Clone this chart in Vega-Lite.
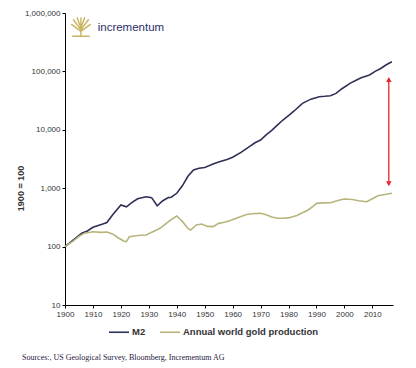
{
  "$schema": "https://vega.github.io/schema/vega-lite/v6.json",
  "width": 328,
  "height": 292,
  "autosize": {"type": "none"},
  "padding": {"left": 65, "top": 13, "right": 23, "bottom": 63},
  "background": "white",
  "config": {
    "font": "Liberation Sans",
    "view": {"stroke": null},
    "axis": {"grid": false, "domainColor": "#000", "tickColor": "#000", "labelColor": "#333", "labelFontSize": 8, "tickSize": 3, "labelPadding": 2, "labelOverlap": false, "labelFlush": false}
  },
  "title": {
    "text": "Sources:, US Geological Survey, Bloomberg, Incrementum AG",
    "orient": "bottom",
    "anchor": "start",
    "font": "Liberation Serif",
    "fontSize": 8,
    "fontWeight": "normal",
    "color": "#1f2040",
    "dx": 6,
    "offset": 17
  },
  "datasets": {
    "series": [
      {"year": 1900, "value": 100, "series": "M2"},
      {"year": 1903, "value": 130, "series": "M2"},
      {"year": 1906, "value": 169, "series": "M2"},
      {"year": 1908, "value": 185, "series": "M2"},
      {"year": 1910, "value": 214, "series": "M2"},
      {"year": 1913, "value": 240, "series": "M2"},
      {"year": 1915, "value": 258, "series": "M2"},
      {"year": 1917, "value": 347, "series": "M2"},
      {"year": 1920, "value": 515, "series": "M2"},
      {"year": 1922, "value": 480, "series": "M2"},
      {"year": 1924, "value": 570, "series": "M2"},
      {"year": 1926, "value": 660, "series": "M2"},
      {"year": 1929, "value": 715, "series": "M2"},
      {"year": 1931, "value": 690, "series": "M2"},
      {"year": 1933, "value": 500, "series": "M2"},
      {"year": 1935, "value": 610, "series": "M2"},
      {"year": 1937, "value": 690, "series": "M2"},
      {"year": 1938, "value": 700, "series": "M2"},
      {"year": 1940, "value": 818, "series": "M2"},
      {"year": 1942, "value": 1100, "series": "M2"},
      {"year": 1944, "value": 1600, "series": "M2"},
      {"year": 1946, "value": 2050, "series": "M2"},
      {"year": 1948, "value": 2200, "series": "M2"},
      {"year": 1950, "value": 2260, "series": "M2"},
      {"year": 1953, "value": 2600, "series": "M2"},
      {"year": 1955, "value": 2800, "series": "M2"},
      {"year": 1958, "value": 3100, "series": "M2"},
      {"year": 1960, "value": 3380, "series": "M2"},
      {"year": 1963, "value": 4100, "series": "M2"},
      {"year": 1966, "value": 5140, "series": "M2"},
      {"year": 1968, "value": 6000, "series": "M2"},
      {"year": 1970, "value": 6680, "series": "M2"},
      {"year": 1972, "value": 8200, "series": "M2"},
      {"year": 1974, "value": 9800, "series": "M2"},
      {"year": 1976, "value": 12000, "series": "M2"},
      {"year": 1978, "value": 14700, "series": "M2"},
      {"year": 1980, "value": 17500, "series": "M2"},
      {"year": 1982, "value": 21000, "series": "M2"},
      {"year": 1985, "value": 28400, "series": "M2"},
      {"year": 1988, "value": 33500, "series": "M2"},
      {"year": 1991, "value": 36900, "series": "M2"},
      {"year": 1993, "value": 37500, "series": "M2"},
      {"year": 1995, "value": 38400, "series": "M2"},
      {"year": 1997, "value": 42000, "series": "M2"},
      {"year": 1999, "value": 50000, "series": "M2"},
      {"year": 2002, "value": 62500, "series": "M2"},
      {"year": 2004, "value": 70000, "series": "M2"},
      {"year": 2006, "value": 78000, "series": "M2"},
      {"year": 2009, "value": 86700, "series": "M2"},
      {"year": 2011, "value": 100000, "series": "M2"},
      {"year": 2013, "value": 112000, "series": "M2"},
      {"year": 2015, "value": 130000, "series": "M2"},
      {"year": 2017, "value": 146500, "series": "M2"},
      {"year": 1900, "value": 100, "series": "Annual world gold production"},
      {"year": 1903, "value": 125, "series": "Annual world gold production"},
      {"year": 1905, "value": 150, "series": "Annual world gold production"},
      {"year": 1907, "value": 170, "series": "Annual world gold production"},
      {"year": 1910, "value": 180, "series": "Annual world gold production"},
      {"year": 1913, "value": 175, "series": "Annual world gold production"},
      {"year": 1915, "value": 178, "series": "Annual world gold production"},
      {"year": 1917, "value": 165, "series": "Annual world gold production"},
      {"year": 1919, "value": 142, "series": "Annual world gold production"},
      {"year": 1921, "value": 125, "series": "Annual world gold production"},
      {"year": 1922, "value": 122, "series": "Annual world gold production"},
      {"year": 1923, "value": 148, "series": "Annual world gold production"},
      {"year": 1926, "value": 155, "series": "Annual world gold production"},
      {"year": 1929, "value": 158, "series": "Annual world gold production"},
      {"year": 1932, "value": 185, "series": "Annual world gold production"},
      {"year": 1934, "value": 206, "series": "Annual world gold production"},
      {"year": 1936, "value": 245, "series": "Annual world gold production"},
      {"year": 1938, "value": 290, "series": "Annual world gold production"},
      {"year": 1940, "value": 334, "series": "Annual world gold production"},
      {"year": 1941, "value": 300, "series": "Annual world gold production"},
      {"year": 1942, "value": 270, "series": "Annual world gold production"},
      {"year": 1944, "value": 205, "series": "Annual world gold production"},
      {"year": 1945, "value": 192, "series": "Annual world gold production"},
      {"year": 1947, "value": 235, "series": "Annual world gold production"},
      {"year": 1949, "value": 244, "series": "Annual world gold production"},
      {"year": 1951, "value": 222, "series": "Annual world gold production"},
      {"year": 1953, "value": 220, "series": "Annual world gold production"},
      {"year": 1955, "value": 250, "series": "Annual world gold production"},
      {"year": 1957, "value": 262, "series": "Annual world gold production"},
      {"year": 1959, "value": 278, "series": "Annual world gold production"},
      {"year": 1962, "value": 315, "series": "Annual world gold production"},
      {"year": 1965, "value": 355, "series": "Annual world gold production"},
      {"year": 1968, "value": 368, "series": "Annual world gold production"},
      {"year": 1970, "value": 372, "series": "Annual world gold production"},
      {"year": 1972, "value": 350, "series": "Annual world gold production"},
      {"year": 1974, "value": 320, "series": "Annual world gold production"},
      {"year": 1976, "value": 305, "series": "Annual world gold production"},
      {"year": 1978, "value": 305, "series": "Annual world gold production"},
      {"year": 1980, "value": 310, "series": "Annual world gold production"},
      {"year": 1983, "value": 340, "series": "Annual world gold production"},
      {"year": 1985, "value": 380, "series": "Annual world gold production"},
      {"year": 1987, "value": 424, "series": "Annual world gold production"},
      {"year": 1989, "value": 500, "series": "Annual world gold production"},
      {"year": 1990, "value": 550, "series": "Annual world gold production"},
      {"year": 1992, "value": 560, "series": "Annual world gold production"},
      {"year": 1995, "value": 565, "series": "Annual world gold production"},
      {"year": 1998, "value": 620, "series": "Annual world gold production"},
      {"year": 2000, "value": 653, "series": "Annual world gold production"},
      {"year": 2003, "value": 640, "series": "Annual world gold production"},
      {"year": 2005, "value": 610, "series": "Annual world gold production"},
      {"year": 2008, "value": 587, "series": "Annual world gold production"},
      {"year": 2010, "value": 660, "series": "Annual world gold production"},
      {"year": 2012, "value": 740, "series": "Annual world gold production"},
      {"year": 2015, "value": 790, "series": "Annual world gold production"},
      {"year": 2017, "value": 818, "series": "Annual world gold production"}
    ],
    "arrow": [{"year": 2015.9, "top": 77000, "bottom": 1120, "topHead": 72000, "bottomHead": 1200}]
  },
  "layer": [
    {
      "data": {"name": "series"},
      "mark": {"type": "line", "strokeWidth": 1.6},
      "encoding": {
        "x": {
          "field": "year", "type": "quantitative",
          "scale": {"domain": [1900, 2017.4], "nice": false, "zero": false},
          "axis": {"title": null, "values": [1900, 1910, 1920, 1930, 1940, 1950, 1960, 1970, 1980, 1990, 2000, 2010], "format": "d", "labelFlush": false, "labelOverlap": false}
        },
        "y": {
          "field": "value", "type": "quantitative",
          "scale": {"type": "log", "domain": [10, 1000000], "nice": false},
          "axis": {"title": "1900 = 100", "values": [10, 100, 1000, 10000, 100000, 1000000], "format": ",", "titleFontSize": 9, "titleFontWeight": "bold", "titleColor": "#333", "titleX": -40, "titleY": 175, "labelFlush": false, "labelOverlap": false}
        },
        "color": {
          "field": "series", "type": "nominal",
          "scale": {"domain": ["M2", "Annual world gold production"], "range": ["#2e3057", "#b8b47c"]},
          "legend": {
            "title": null, "orient": "none", "legendX": 43, "legendY": 308, "direction": "horizontal",
            "symbolType": "stroke", "symbolSize": 400, "symbolStrokeWidth": 1.6,
            "labelFontWeight": "bold", "labelFontSize": 9.5, "labelColor": "#333",
            "labelOffset": 2, "columnPadding": 10
          }
        }
      }
    },
    {
      "data": {"name": "arrow"},
      "mark": {"type": "rule", "color": "#e5262a", "strokeWidth": 1.3},
      "encoding": {
        "x": {"field": "year", "type": "quantitative", "axis": {"title": null, "values": [1900, 1910, 1920, 1930, 1940, 1950, 1960, 1970, 1980, 1990, 2000, 2010], "format": "d", "labelFlush": false, "labelOverlap": false}},
        "y": {"field": "top", "type": "quantitative", "axis": {"title": "1900 = 100", "values": [10, 100, 1000, 10000, 100000, 1000000], "format": ",", "titleFontSize": 9, "titleFontWeight": "bold", "titleColor": "#333", "titleX": -40, "titleY": 175, "labelFlush": false, "labelOverlap": false}},
        "y2": {"field": "bottom"}
      }
    },
    {
      "data": {"name": "arrow"},
      "mark": {"type": "point", "shape": "triangle-up", "filled": true, "color": "#e5262a", "size": 30, "opacity": 1},
      "encoding": {
        "x": {"field": "year", "type": "quantitative", "axis": {"title": null, "values": [1900, 1910, 1920, 1930, 1940, 1950, 1960, 1970, 1980, 1990, 2000, 2010], "format": "d", "labelFlush": false, "labelOverlap": false}},
        "y": {"field": "topHead", "type": "quantitative", "axis": {"title": "1900 = 100", "values": [10, 100, 1000, 10000, 100000, 1000000], "format": ",", "titleFontSize": 9, "titleFontWeight": "bold", "titleColor": "#333", "titleX": -40, "titleY": 175, "labelFlush": false, "labelOverlap": false}}
      }
    },
    {
      "data": {"name": "arrow"},
      "mark": {"type": "point", "shape": "triangle-down", "filled": true, "color": "#e5262a", "size": 30, "opacity": 1},
      "encoding": {
        "x": {"field": "year", "type": "quantitative", "axis": {"title": null, "values": [1900, 1910, 1920, 1930, 1940, 1950, 1960, 1970, 1980, 1990, 2000, 2010], "format": "d", "labelFlush": false, "labelOverlap": false}},
        "y": {"field": "bottomHead", "type": "quantitative", "axis": {"title": "1900 = 100", "values": [10, 100, 1000, 10000, 100000, 1000000], "format": ",", "titleFontSize": 9, "titleFontWeight": "bold", "titleColor": "#333", "titleX": -40, "titleY": 175, "labelFlush": false, "labelOverlap": false}}
      }
    },
    {
      "data": {"values": [{}]},
      "mark": {"type": "point", "shape": "M0,0.9L0,-0.1M0,0.3L-0.8,-0.8M0,0.3L0.8,-0.8M0,0.1L-0.4,-1M0,0.1L0.4,-1M0,0.45L-1,-0.3M0,0.45L1,-0.3M0,0L0,-1M-0.9,0.95L0.9,0.95", "filled": false, "color": "#c9b560", "strokeWidth": 1.4, "size": 380, "opacity": 1},
      "encoding": {
        "x": {"datum": 1905.7, "axis": {"title": null, "values": [1900, 1910, 1920, 1930, 1940, 1950, 1960, 1970, 1980, 1990, 2000, 2010], "format": "d", "labelFlush": false, "labelOverlap": false}},
        "y": {"datum": 575000, "axis": {"title": "1900 = 100", "values": [10, 100, 1000, 10000, 100000, 1000000], "format": ",", "titleFontSize": 9, "titleFontWeight": "bold", "titleColor": "#333", "titleX": -40, "titleY": 175, "labelFlush": false, "labelOverlap": false}}
      }
    },
    {
      "data": {"values": [{}]},
      "mark": {"type": "text", "text": "incrementum", "align": "left", "baseline": "middle", "fontSize": 11.5, "color": "#2b2e6e", "font": "Liberation Sans"},
      "encoding": {
        "x": {"datum": 1911.7, "axis": {"title": null, "values": [1900, 1910, 1920, 1930, 1940, 1950, 1960, 1970, 1980, 1990, 2000, 2010], "format": "d", "labelFlush": false, "labelOverlap": false}},
        "y": {"datum": 547000, "axis": {"title": "1900 = 100", "values": [10, 100, 1000, 10000, 100000, 1000000], "format": ",", "titleFontSize": 9, "titleFontWeight": "bold", "titleColor": "#333", "titleX": -40, "titleY": 175, "labelFlush": false, "labelOverlap": false}}
      }
    }
  ]
}
